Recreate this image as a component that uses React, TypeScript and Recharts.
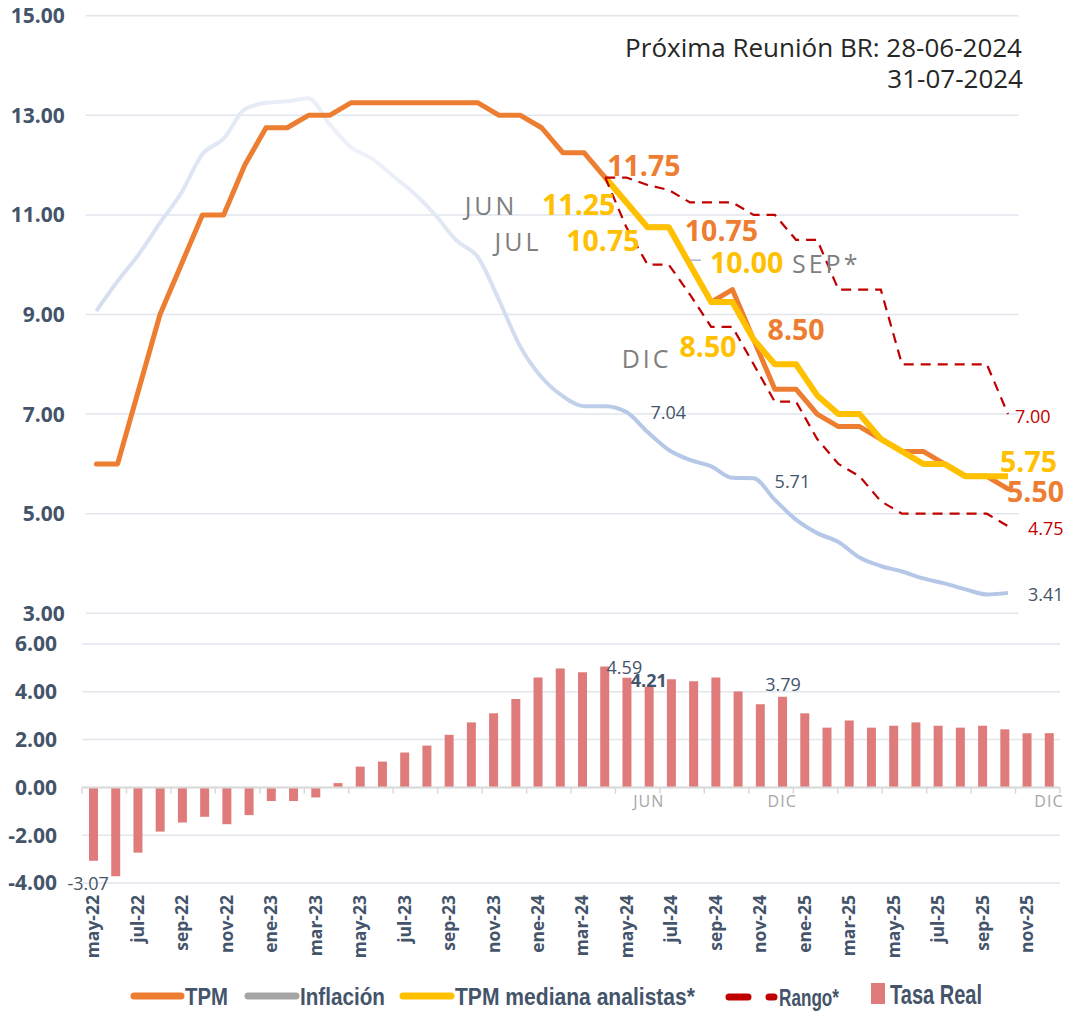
import React from "react";
import {
  Bar,
  CartesianGrid,
  ComposedChart,
  Line,
  LineChart,
  ReferenceDot,
  ReferenceLine,
  XAxis,
  YAxis,
} from "recharts";

const months = [
  "may-22", "jun-22", "jul-22", "ago-22", "sep-22", "oct-22", "nov-22", "dic-22",
  "ene-23", "feb-23", "mar-23", "abr-23", "may-23", "jun-23", "jul-23", "ago-23",
  "sep-23", "oct-23", "nov-23", "dic-23",
  "ene-24", "feb-24", "mar-24", "abr-24", "may-24", "jun-24", "jul-24", "ago-24",
  "sep-24", "oct-24", "nov-24", "dic-24",
  "ene-25", "feb-25", "mar-25", "abr-25", "may-25", "jun-25", "jul-25", "ago-25",
  "sep-25", "oct-25", "nov-25", "dic-25",
];

const tpm = [
  6.0, 6.0, 7.5, 9.0, 10.0, 11.0, 11.0, 12.0,
  12.75, 12.75, 13.0, 13.0, 13.25, 13.25, 13.25, 13.25, 13.25, 13.25, 13.25, 13.0,
  13.0, 12.75, 12.25, 12.25, 11.75, 11.25, 10.75, 10.75, 10.0, 9.25, 9.5, 8.5,
  7.5, 7.5, 7.0, 6.75, 6.75, 6.5, 6.25, 6.25, 6.0, 5.75, 5.75, 5.5,
];

const inflation = [
  9.07, 9.67, 10.21, 10.84, 11.44, 12.22, 12.53, 13.12,
  13.25, 13.28, 13.34, 12.82, 12.36, 12.13, 11.78, 11.43, 10.99, 10.48, 10.15, 9.28,
  8.35, 7.74, 7.36, 7.16, 7.16, 7.04, 6.64, 6.28, 6.08, 5.95, 5.72, 5.71,
  5.28, 4.88, 4.61, 4.43, 4.12, 3.95, 3.84, 3.7, 3.6, 3.48, 3.38, 3.41,
];

// analysts survey, from may-24 on
const forecastFrom = "may-24";
const tpmMedian = [
  11.75, 11.25, 10.75, 10.75, 10.0, 9.25, 9.25, 8.5,
  8.0, 8.0, 7.375, 7.0, 7.0, 6.5, 6.25, 6.0, 6.0, 5.75, 5.75, 5.75,
];
const rangeHigh = [
  11.75, 11.75, 11.6, 11.5, 11.25, 11.25, 11.25, 11.0,
  11.0, 10.5, 10.5, 9.5, 9.5, 9.5, 8.0, 8.0, 8.0, 8.0, 8.0, 7.0,
];
const rangeLow = [
  11.75, 10.75, 10.0, 10.0, 9.4, 8.75, 8.75, 8.0,
  7.25, 7.25, 6.5, 6.0, 5.75, 5.25, 5.0, 5.0, 5.0, 5.0, 5.0, 4.75,
];

const realRate = [
  -3.07, -3.72, -2.73, -1.85, -1.47, -1.23, -1.54, -1.16,
  -0.57, -0.57, -0.42, 0.18, 0.87, 1.08, 1.46, 1.75, 2.2, 2.72, 3.1, 3.7,
  4.6, 4.98, 4.82, 5.06, 4.59, 4.21, 4.53, 4.44, 4.6, 4.01, 3.48, 3.79,
  3.1, 2.5, 2.8, 2.5, 2.58, 2.72, 2.58, 2.5, 2.58, 2.43, 2.27, 2.27,
];

const topTicks = [3, 5, 7, 9, 11, 13, 15];
const bottomTicks = [-4, -2, 0, 2, 4, 6];

// which points carry a value label
const tpmCallouts = ["may-24", "ago-24", "dic-24", "dic-25"];
const medianCallouts = [
  { month: "jun-24", tag: "JUN" },
  { month: "jul-24", tag: "JUL" },
  { month: "sep-24", tag: "SEP*" },
  { month: "dic-24", tag: "DIC" },
  { month: "dic-25", tag: "" },
];
const inflationCallouts = ["jun-24", "dic-24", "dic-25"];
const rangeCallouts = ["dic-25"];
const realCallouts = ["may-22", "may-24", "jun-24", "dic-24"];
const periodTags = [
  { month: "jun-24", tag: "JUN" },
  { month: "dic-24", tag: "DIC" },
  { month: "dic-25", tag: "DIC" },
];

const start = months.indexOf(forecastFrom);
const fromForecast = (arr: number[], i: number) => (i >= start ? arr[i - start] : null);

const lineData = months.map((month, i) => ({
  month,
  tpm: tpm[i],
  inflation: inflation[i],
  median: fromForecast(tpmMedian, i),
  high: fromForecast(rangeHigh, i),
  low: fromForecast(rangeLow, i),
}));
const barData = months.map((month, i) => ({ month, real: realRate[i] }));
const valueAt = (key: string, month: string) =>
  (lineData.find((d) => d.month === month) as any)[key] as number;

const FONT = "'Open Sans', 'DejaVu Sans', sans-serif";
const NARROW = "'Liberation Sans Narrow', 'Liberation Sans', sans-serif";
const SLATE = "#44546A";
const GRID = "#E1E5EC";
const ORANGE = "#ED7D31";
const YELLOW = "#FFC000";
const RED = "#C00000";
const PINK = "#E07B7B";

type Place = {
  anchor: "start" | "middle" | "end";
  dx: number;
  dy: number;
  tagDx?: number;
  tagDy?: number;
  leader?: boolean;
};

// label offsets from their point, in px
const place: Record<string, Place> = {
  "tpm:may-24": { anchor: "start", dx: 2, dy: -2 },
  "tpm:ago-24": { anchor: "start", dx: 16, dy: 14 },
  "tpm:dic-24": { anchor: "start", dx: 14, dy: 1 },
  "tpm:dic-25": { anchor: "start", dx: -1, dy: 13 },
  "median:jun-24": { anchor: "end", dx: -11, dy: 12.5, tagDx: -109, tagDy: 12.5 },
  "median:jul-24": { anchor: "end", dx: -8, dy: 24, tagDx: -106, tagDy: 24 },
  "median:sep-24": { anchor: "start", dx: 20, dy: 8, tagDx: 102, tagDy: 8, leader: true },
  "median:dic-24": { anchor: "end", dx: -17, dy: 18, tagDx: -82, tagDy: 29 },
  "median:dic-25": { anchor: "start", dx: -8, dy: -4 },
  "inflation:jun-24": { anchor: "start", dx: 24, dy: 7 },
  "inflation:dic-24": { anchor: "start", dx: 21, dy: 10 },
  "inflation:dic-25": { anchor: "start", dx: 20, dy: 8 },
  "high:dic-25": { anchor: "start", dx: 7, dy: 9 },
  "low:dic-25": { anchor: "start", dx: 20, dy: 9 },
  "real:may-22": { anchor: "middle", dx: -5, dy: 29 },
  "real:may-24": { anchor: "start", dx: -20, dy: -4 },
  "real:jun-24": { anchor: "start", dx: -18, dy: 0 },
  "real:dic-24": { anchor: "start", dx: -17, dy: -6 },
};

const bigOrange = { fill: ORANGE, fontSize: 28.5, fontWeight: 700, fontFamily: FONT };
const bigYellow = { fill: YELLOW, fontSize: 28.5, fontWeight: 700, fontFamily: FONT };
const smallSlate = { fill: SLATE, fontSize: 18, fontFamily: FONT };
const smallRed = { fill: RED, fontSize: 18, fontFamily: FONT };
const grayTag = { fill: "#7F7F7F", fontSize: 25, fontFamily: FONT, letterSpacing: 3 };

const callout =
  (text: string, p: Place, style: any, tag?: string, bold?: boolean) => (props: any) => {
    const vb = props.viewBox || {};
    const x = (vb.x ?? 0) + (vb.width ?? 0) / 2;
    const y = (vb.y ?? 0) + (vb.height ?? 0) / 2;
    return (
      <g>
        {p.leader && (
          <line x1={x} x2={x + 11} y1={y - 4.5} y2={y - 4.5} stroke="#A9B7CC" strokeWidth={1.5} />
        )}
        <text
          x={x + p.dx}
          y={y + p.dy}
          textAnchor={p.anchor}
          {...style}
          fontWeight={bold ? 700 : style.fontWeight}
        >
          {text}
        </text>
        {tag ? (
          <text
            x={x + (p.tagDx ?? 0)}
            y={y + (p.tagDy ?? 0)}
            textAnchor={p.anchor}
            {...grayTag}
          >
            {tag}
          </text>
        ) : null}
      </g>
    );
  };

const fmt = (v: number) => v.toFixed(2);
const axisTick = { fill: SLATE, fontSize: 21, fontWeight: 700, fontFamily: FONT };

const renderMonthTick = (props: any) => {
  const { x, y, payload } = props;
  return (
    <text
      x={x}
      y={y}
      transform={`rotate(-90, ${x}, ${y})`}
      textAnchor="end"
      dy="0.36em"
      fill={SLATE}
      fontSize={17.5}
      fontWeight={700}
      fontFamily={FONT}
    >
      {payload.value}
    </text>
  );
};

const dotProps = { r: 0, fill: "none", stroke: "none", ifOverflow: "visible" as const };

export default function App() {
  return (
    <div
      style={{
        position: "absolute",
        left: 0,
        top: 0,
        width: 1068,
        height: 1011,
        background: "#fff",
        overflow: "hidden",
      }}
    >
      <div style={{ position: "absolute", left: 0, top: 0 }}>
        <LineChart
          width={1068}
          height={640}
          data={lineData}
          margin={{ top: 15.7, right: 49.4, bottom: 26.7, left: 0 }}
        >
          <defs>
            <linearGradient id="inflFade" x1="0" y1="0" x2="1" y2="0">
              <stop offset="0" stopColor="#D3DEF0" />
              <stop offset="0.2" stopColor="#E8EDF7" />
              <stop offset="0.3" stopColor="#EEF2F9" />
              <stop offset="0.42" stopColor="#DBE3F2" />
              <stop offset="0.5" stopColor="#C6D4EC" />
              <stop offset="0.58" stopColor="#B6C8E7" />
              <stop offset="1" stopColor="#B4C7E7" />
            </linearGradient>
          </defs>
          <CartesianGrid vertical={false} stroke={GRID} strokeWidth={1.5} />
          <XAxis dataKey="month" hide padding={{ left: 10.6, right: 10.6 }} />
          <YAxis
            domain={[3, 15]}
            ticks={topTicks}
            interval={0}
            width={85.8}
            axisLine={false}
            tickLine={false}
            tickSize={0}
            tickMargin={21}
            tickFormatter={fmt}
            tick={axisTick}
          />
          <Line
            dataKey="inflation"
            type="monotone"
            stroke="url(#inflFade)"
            strokeWidth={4}
            dot={false}
            activeDot={false}
            isAnimationActive={false}
          />
          <Line
            dataKey="tpm"
            type="linear"
            stroke={ORANGE}
            strokeWidth={5}
            strokeLinejoin="round"
            strokeLinecap="round"
            dot={false}
            activeDot={false}
            isAnimationActive={false}
          />
          <Line
            dataKey="median"
            type="linear"
            stroke={YELLOW}
            strokeWidth={6}
            strokeLinejoin="round"
            dot={false}
            activeDot={false}
            isAnimationActive={false}
          />
          <Line
            dataKey="high"
            type="linear"
            stroke={RED}
            strokeWidth={2.2}
            strokeDasharray="10 7"
            dot={false}
            activeDot={false}
            isAnimationActive={false}
          />
          <Line
            dataKey="low"
            type="linear"
            stroke={RED}
            strokeWidth={2.2}
            strokeDasharray="10 7"
            dot={false}
            activeDot={false}
            isAnimationActive={false}
          />
          {inflationCallouts.map((m) => (
            <ReferenceDot
              key={`inf-${m}`}
              x={m}
              y={valueAt("inflation", m)}
              {...dotProps}
              label={callout(fmt(valueAt("inflation", m)), place[`inflation:${m}`], smallSlate)}
            />
          ))}
          {rangeCallouts.map((m) => (
            <ReferenceDot
              key={`hi-${m}`}
              x={m}
              y={valueAt("high", m)}
              {...dotProps}
              label={callout(fmt(valueAt("high", m)), place[`high:${m}`], smallRed)}
            />
          ))}
          {rangeCallouts.map((m) => (
            <ReferenceDot
              key={`lo-${m}`}
              x={m}
              y={valueAt("low", m)}
              {...dotProps}
              label={callout(fmt(valueAt("low", m)), place[`low:${m}`], smallRed)}
            />
          ))}
          {tpmCallouts.map((m) => (
            <ReferenceDot
              key={`tpm-${m}`}
              x={m}
              y={valueAt("tpm", m)}
              {...dotProps}
              label={callout(fmt(valueAt("tpm", m)), place[`tpm:${m}`], bigOrange)}
            />
          ))}
          {medianCallouts.map((c) => (
            <ReferenceDot
              key={`med-${c.month}`}
              x={c.month}
              y={valueAt("median", c.month)}
              {...dotProps}
              label={callout(
                fmt(valueAt("median", c.month)),
                place[`median:${c.month}`],
                bigYellow,
                c.tag
              )}
            />
          ))}
        </LineChart>
      </div>

      <div style={{ position: "absolute", left: 0, top: 600 }}>
        <ComposedChart
          width={1068}
          height={380}
          data={barData}
          margin={{ top: 44, right: 8, bottom: 0, left: 0 }}
        >
          <CartesianGrid vertical={false} stroke={GRID} strokeWidth={1.5} />
          <XAxis
            dataKey="month"
            interval={1}
            height={97}
            axisLine={false}
            tickLine={false}
            tickSize={0}
            tickMargin={12}
            tick={renderMonthTick}
          />
          <YAxis
            domain={[-4, 6]}
            ticks={bottomTicks}
            interval={0}
            width={82}
            axisLine={false}
            tickLine={false}
            tickSize={0}
            tickMargin={25}
            tickFormatter={fmt}
            tick={axisTick}
          />
          <ReferenceLine y={0} stroke="#D9D9D9" strokeWidth={2} />
          {months.map((m, i) =>
            i % 2 === 0 ? (
              <ReferenceLine
                key={`tk-${m}`}
                segment={[
                  { x: m, y: 0 },
                  { x: m, y: -0.26 },
                ]}
                position="start"
                stroke="#D9D9D9"
                strokeWidth={1.5}
              />
            ) : null
          )}
          <ReferenceLine
            segment={[
              { x: months[months.length - 1], y: 0 },
              { x: months[months.length - 1], y: -0.26 },
            ]}
            position="end"
            stroke="#D9D9D9"
            strokeWidth={1.5}
          />
          <Bar dataKey="real" barSize={9} fill={PINK} isAnimationActive={false} />
          {realCallouts.map((m) => {
            const v = realRate[months.indexOf(m)];
            return (
              <ReferenceDot
                key={`real-${m}`}
                x={m}
                y={v}
                {...dotProps}
                label={callout(fmt(v), place[`real:${m}`], smallSlate, undefined, m === "jun-24")}
              />
            );
          })}
          {periodTags.map((t) => (
            <ReferenceDot
              key={`pt-${t.month}`}
              x={t.month}
              y={0}
              {...dotProps}
              label={(props: any) => (
                <text
                  x={props.viewBox.x}
                  y={props.viewBox.y + 20}
                  textAnchor="middle"
                  fill="#A6A6A6"
                  fontSize={16}
                  letterSpacing={1}
                  fontFamily={FONT}
                >
                  {t.tag}
                </text>
              )}
            />
          ))}
        </ComposedChart>
      </div>

      <svg
        width={1068}
        height={1011}
        style={{ position: "absolute", left: 0, top: 0, pointerEvents: "none" }}
      >
        <text x={1022} y={57} textAnchor="end" fill="#262626" fontSize={26} fontFamily={FONT}>
          Próxima Reunión BR: 28-06-2024
        </text>
        <text x={1023} y={88} textAnchor="end" fill="#262626" fontSize={26} fontFamily={FONT}>
          31-07-2024
        </text>

        <g fontFamily={NARROW} fontWeight={700} fill={SLATE}>
          <line x1={134} x2={181} y1={996} y2={996} stroke={ORANGE} strokeWidth={7} strokeLinecap="round" />
          <text x={185} y={1005} fontSize={24} textLength={43} lengthAdjust="spacingAndGlyphs">
            TPM
          </text>
          <line x1={248} x2={296} y1={996} y2={996} stroke="#A5A5A5" strokeWidth={7} strokeLinecap="round" />
          <text x={300} y={1005} fontSize={24} textLength={85} lengthAdjust="spacingAndGlyphs">
            Inflación
          </text>
          <line x1={403} x2={451} y1={996} y2={996} stroke={YELLOW} strokeWidth={7} strokeLinecap="round" />
          <text x={455} y={1005} fontSize={24} textLength={240} lengthAdjust="spacingAndGlyphs">
            TPM mediana analistas*
          </text>
          <line x1={729} x2={748} y1={997} y2={997} stroke={RED} strokeWidth={7} strokeLinecap="round" />
          <line x1={769} x2={774} y1={997} y2={997} stroke={RED} strokeWidth={7} strokeLinecap="round" />
          <text x={779} y={1006} fontSize={24} textLength={60} lengthAdjust="spacingAndGlyphs">
            Rango*
          </text>
          <rect x={871} y={983} width={14} height={21} fill={PINK} />
          <text x={890} y={1004} fontSize={28} textLength={92} lengthAdjust="spacingAndGlyphs">
            Tasa Real
          </text>
        </g>
      </svg>
    </div>
  );
}
